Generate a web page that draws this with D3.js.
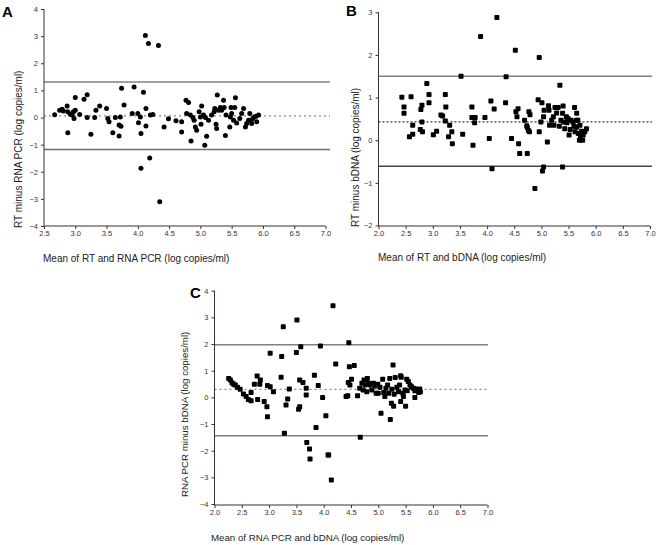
<!DOCTYPE html>
<html><head><meta charset="utf-8">
<script src="https://cdn.jsdelivr.net/npm/d3@7"></script>
<style>body{margin:0;background:#fff}svg{display:block}text{font-family:"Liberation Sans",Arial,sans-serif}</style>
</head><body>
<svg id="c" width="661" height="545"></svg>
<script>
// ---------- DATA ----------
const aX = [2.67,2.75,2.79,2.81,2.87,2.88,2.88,2.92,2.95,2.97,3.00,3.00,2.98,3.07,3.14,3.19,3.19,3.25,3.31,3.33,3.39,3.50,3.52,3.54,3.60,3.64,3.70,3.70,3.72,3.73,3.74,3.78,3.91,3.94,4.00,4.01,4.04,4.05,4.09,4.13,4.13,4.20,4.24,4.12,4.17,4.33,4.05,4.19,4.35,4.42,4.49,4.61,4.70,4.70,4.77,4.81,4.78,4.84,4.85,4.88,4.90,4.92,4.94,4.98,5.00,5.02,5.01,5.05,5.07,5.10,5.08,5.13,5.18,5.22,5.23,5.25,5.26,5.27,5.29,5.32,5.34,5.37,5.38,5.40,5.41,5.47,5.48,5.49,5.50,5.53,5.55,5.56,5.58,5.63,5.66,5.69,5.72,5.74,5.77,5.79,5.81,5.84,5.86,5.89,5.93,5.90,5.82];
const aY = [0.10,0.27,0.30,0.24,0.42,0.21,-0.56,0.12,0.09,0.21,0.74,0.27,-0.04,0.11,0.67,0.84,0.00,-0.62,0.00,0.27,0.42,0.33,-0.04,-0.16,-0.56,0.00,-0.28,-0.68,0.02,-0.32,1.08,0.46,0.15,1.12,0.15,-0.19,0.02,-0.59,0.93,0.33,-0.31,0.09,0.11,3.02,2.73,2.65,-1.87,-1.49,-3.11,-0.35,-0.05,-0.12,-0.16,-0.53,0.64,0.55,0.15,0.09,-0.87,0.00,-0.10,-0.35,-0.47,0.21,0.02,0.42,-0.25,0.09,-1.02,-0.69,0.00,-0.10,0.09,0.21,0.33,-0.25,-0.41,0.83,0.27,0.37,0.27,0.64,0.37,-0.66,0.09,-0.35,0.02,0.37,0.15,-0.10,0.37,0.73,-0.20,-0.04,0.15,0.33,-0.35,-0.22,-0.10,0.15,-0.10,-0.04,0.02,0.05,0.09,-0.16,-0.22];
const aLimits = [1.31, 0.06, -1.18]; // upper LoA, mean, lower LoA

const bX = [2.43,2.47,2.47,2.57,2.60,2.63,2.63,2.77,2.78,2.80,2.80,2.81,2.89,2.93,2.93,3.01,3.07,3.15,3.18,3.23,3.24,3.23,3.29,3.31,3.35,3.36,3.52,3.55,3.72,3.72,3.74,3.77,3.78,3.96,3.88,4.04,4.07,4.09,4.13,4.18,4.34,4.35,4.45,4.52,4.53,4.55,4.57,4.58,4.60,4.69,4.73,4.74,4.76,4.77,4.79,4.74,4.78,4.88,4.94,4.96,4.96,4.99,5.01,5.02,5.04,5.04,5.05,5.11,5.13,5.14,5.15,5.19,5.22,5.23,5.25,5.28,5.31,5.33,5.34,5.36,5.39,5.39,5.40,5.41,5.43,5.46,5.47,5.49,5.51,5.53,5.54,5.58,5.60,5.61,5.62,5.64,5.65,5.68,5.70,5.71,5.72,5.74,5.76,5.77,5.80,5.83,5.67,5.65];
const bY = [1.01,0.78,0.63,0.08,1.02,0.35,0.14,0.25,0.72,0.82,0.43,0.20,1.33,1.07,0.88,0.13,0.21,0.59,0.57,1.07,0.78,0.45,0.08,0.35,0.20,-0.08,1.50,0.14,0.78,0.53,-0.12,0.41,0.53,0.53,2.43,0.04,0.92,-0.67,0.73,2.88,0.88,1.49,0.04,2.11,0.67,0.55,0.74,-0.08,-0.31,0.47,0.34,0.30,0.23,0.67,0.60,-0.31,0.20,-1.13,0.95,1.94,0.20,0.43,0.88,-0.72,-0.63,0.55,0.70,-0.04,0.81,0.70,0.35,0.47,0.55,0.35,0.77,0.64,0.77,0.33,1.29,0.47,0.63,-0.63,0.80,0.43,0.27,0.55,0.41,0.51,0.12,0.25,0.47,0.43,0.33,0.77,0.20,0.47,0.31,0.16,0.00,0.35,0.08,0.21,0.00,0.12,0.20,0.27,0.47,0.63];
const bLimits = [1.50, 0.43, -0.61];

const cX = [2.26,2.29,2.32,2.35,2.38,2.42,2.47,2.53,2.58,2.62,2.67,2.67,2.73,2.78,2.79,2.84,2.83,2.91,2.96,2.97,2.97,3.02,3.02,3.08,3.22,3.23,3.26,3.28,3.31,3.34,3.37,3.50,3.51,3.54,3.56,3.56,3.58,3.62,3.68,3.68,3.69,3.74,3.75,3.83,3.86,3.90,3.94,3.98,4.04,4.08,4.09,4.14,4.17,4.22,4.41,4.44,4.45,4.46,4.47,4.48,4.51,4.56,4.62,4.66,4.67,4.70,4.72,4.74,4.76,4.79,4.80,4.82,4.85,4.88,4.91,4.94,4.96,4.99,5.00,5.03,5.05,5.08,5.10,5.12,5.14,5.17,5.19,5.21,5.22,5.24,5.25,5.27,5.28,5.29,5.31,5.34,5.37,5.39,5.41,5.41,5.42,5.45,5.46,5.49,5.50,5.52,5.53,5.55,5.58,5.61,5.64,5.67,5.67,5.69,5.72,5.74,5.76,5.77];
const cY = [0.71,0.65,0.55,0.49,0.46,0.38,0.30,0.13,0.03,-0.08,-0.13,0.18,0.49,0.80,-0.08,0.65,0.49,-0.16,-0.35,-0.73,0.44,0.40,1.65,0.21,0.75,1.53,2.65,-1.35,-0.29,-0.06,0.31,1.68,2.90,-0.45,-0.35,0.65,1.90,0.56,0.09,0.34,-1.69,-1.94,-2.31,0.83,-1.13,0.44,1.93,-0.01,-0.69,-2.16,-2.16,-3.10,3.44,1.25,0.03,0.06,0.56,2.05,1.15,0.46,0.68,1.19,0.06,0.34,-1.50,0.53,0.28,0.65,0.46,0.21,0.71,0.53,0.46,0.28,0.53,0.43,0.15,0.49,0.15,0.38,-0.60,0.68,0.18,0.03,0.34,0.46,0.15,0.71,-0.83,-0.22,0.30,1.21,-0.33,0.12,0.74,0.38,0.21,0.46,-0.16,0.81,0.75,0.15,0.03,0.28,-0.33,0.68,0.25,0.59,0.46,0.40,0.34,-0.01,0.25,0.31,0.28,0.18,0.31,0.21];
const cLimits = [1.97, 0.30, -1.44];

const xTicksA = [2.5,3.0,3.5,4.0,4.5,5.0,5.5,6.0,6.5,7.0];
const xTicksBC = [2.0,2.5,3.0,3.5,4.0,4.5,5.0,5.5,6.0,6.5,7.0];
const yTicksAC = [-4,-3,-2,-1,0,1,2,3,4];
const yTicksB = [-2,-1,0,1,2,3];

// ---------- DRAW ----------
const svg = d3.select("#c");

function panel(o){
  const g = svg.append("g");
  const x = d3.scaleLinear().domain(o.xDom).range([o.x0, o.x1]);
  const y = d3.scaleLinear().domain(o.yDom).range([o.yBot, o.yTop]);
  // reference lines
  const lim = o.limits;
  [[lim[0], o.upCol, null],[lim[1], o.meanCol, o.dash],[lim[2], o.loCol, null]].forEach(([v,col,dash])=>{
    g.append("line").attr("x1", o.x0).attr("x2", o.lineEnd)
      .attr("y1", y(v)).attr("y2", y(v))
      .attr("stroke", col).attr("stroke-width", dash ? 1.2 : 1.4)
      .attr("stroke-dasharray", dash);
  });
  // axes
  const ya = d3.axisLeft(y).tickValues(o.yTicks).tickFormat(d3.format("d")).tickSize(3).tickPadding(3);
  const yg = g.append("g").attr("transform", `translate(${o.x0},0)`).call(ya);
  yg.select(".domain").attr("d", `M0,${o.yTop}V${o.axisY}`);
  const xa = d3.axisBottom(x).tickValues(o.xTicks).tickFormat(d3.format(".1f")).tickSize(3).tickPadding(2);
  const xg = g.append("g").attr("transform", `translate(0,${o.axisY})`).call(xa);
  xg.select(".domain").attr("d", `M${o.x0},0H${o.x1}`);
  [yg, xg].forEach(s=>{
    s.selectAll(".domain").attr("stroke","#333").attr("stroke-width",1);
    s.selectAll(".tick line").attr("stroke","#333");
    s.selectAll(".tick text").attr("fill","#333").style("font-size","7.5px").style("font-family","Liberation Sans, Arial, sans-serif");
  });
  // points
  const pts = o.xs.map((v,i)=>[v, o.ys[i]]);
  if (o.shape === "circle") {
    g.append("g").selectAll("circle").data(pts).join("circle")
      .attr("cx", d=>x(d[0])).attr("cy", d=>y(d[1])).attr("r", 2.5).attr("fill", "#000");
  } else {
    g.append("g").selectAll("rect").data(pts).join("rect")
      .attr("x", d=>x(d[0])-2.5).attr("y", d=>y(d[1])-2.5)
      .attr("width", 5).attr("height", 5).attr("rx", 0.8).attr("fill", "#000");
  }
  // titles
  g.append("text").attr("x", o.xtX).attr("y", o.xtY).attr("fill","#222")
    .style("font-size", o.fs + "px").text(o.xTitle);
  g.append("text").attr("transform", `translate(${o.ytX},${o.ytY}) rotate(-90)`).attr("fill","#222")
    .style("font-size", o.fs + "px").text(o.yTitle);
  g.append("text").attr("x", o.lx).attr("y", o.ly).attr("fill","#000")
    .style("font-size","15px").style("font-weight","bold").text(o.letter);
}

panel({letter:"A", lx:2, ly:17, xs:aX, ys:aY, limits:aLimits, shape:"circle",
  xDom:[2.5,7.0], x0:44, x1:325.5, yDom:[-4,4], yBot:226, yTop:9, axisY:226, lineEnd:330,
  xTicks:xTicksA, yTicks:yTicksAC, upCol:"#808080", meanCol:"#888", loCol:"#707070", dash:"2,3",
  xTitle:"Mean of RT and RNA PCR (log copies/ml)", xtX:43, xtY:262,
  yTitle:"RT minus RNA PCR (log copies/ml)", ytX:22, ytY:228, fs:10});

panel({letter:"B", lx:346, ly:16, xs:bX, ys:bY, limits:bLimits, shape:"square",
  xDom:[2.0,7.0], x0:378.5, x1:650, yDom:[-2,3], yBot:225.5, yTop:12.3, axisY:226, lineEnd:652,
  xTicks:xTicksBC, yTicks:yTicksB, upCol:"#808080", meanCol:"#333", loCol:"#444", dash:"2,2",
  xTitle:"Mean of RT and bDNA (log copies/ml)", xtX:378, xtY:261,
  yTitle:"RT minus bDNA (log copies/ml)", ytX:359, ytY:227, fs:10});

panel({letter:"C", lx:190, ly:298, xs:cX, ys:cY, limits:cLimits, shape:"square",
  xDom:[2.0,7.0], x0:214.5, x1:487.5, yDom:[-4,4], yBot:504, yTop:290.7, axisY:505, lineEnd:488,
  xTicks:xTicksBC, yTicks:yTicksAC, upCol:"#808080", meanCol:"#888", loCol:"#808080", dash:"2,3",
  xTitle:"Mean of RNA PCR and bDNA (log copies/ml)", xtX:211, xtY:541,
  yTitle:"RNA PCR minus bDNA (log copies/ml)", ytX:188, ytY:497, fs:9.7});
</script>
</body></html>
